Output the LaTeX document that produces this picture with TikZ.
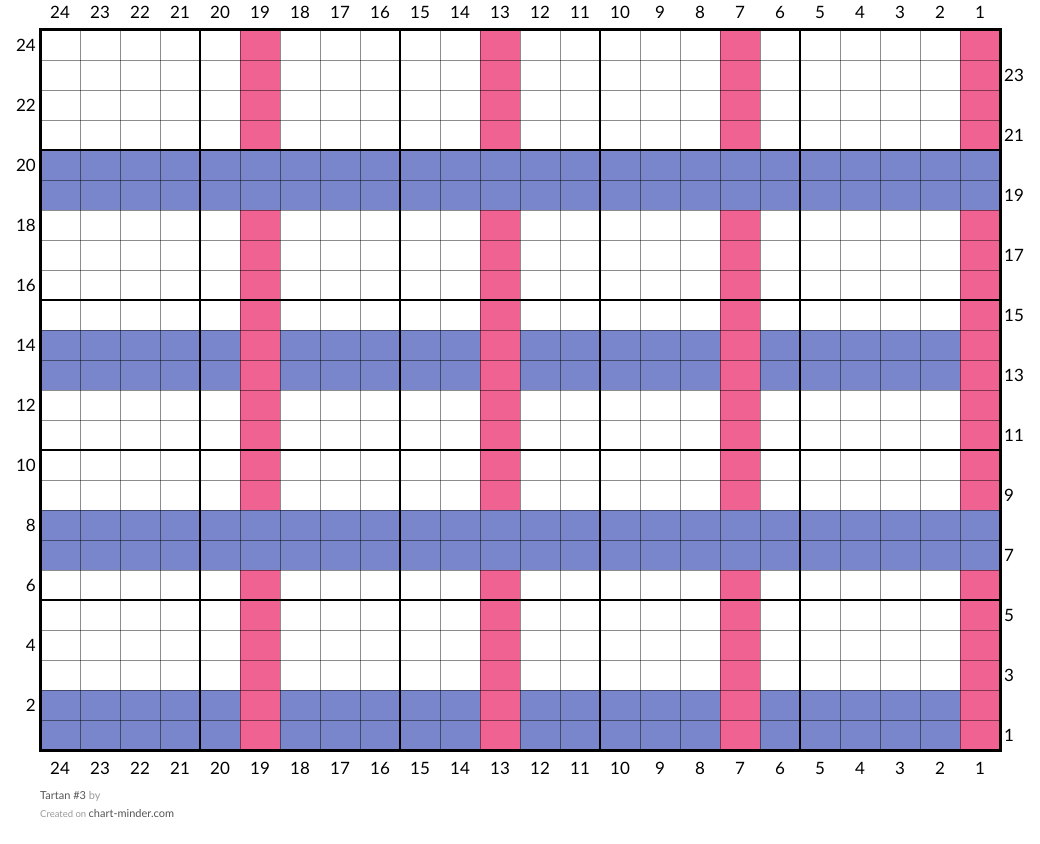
\documentclass[tikz,border=0pt]{standalone}
\usepackage{fontspec}
\setmainfont{Lato}
\definecolor{pinkc}{HTML}{F06292}
\definecolor{bluec}{HTML}{7986CB}
\definecolor{darkg}{HTML}{555555}
\definecolor{lightg}{HTML}{9A9A9A}
\begin{document}
\begin{tikzpicture}[x=1pt,y=-1pt,
  lab/.style={font=\fontsize{17}{20}\selectfont, inner sep=0pt, text=black},
  thingrid/.style={draw=black, draw opacity=0.45, line width=1pt},
  thickgrid/.style={draw=black, line width=2.4pt},
  foot/.style={inner sep=0pt, anchor=base west}]
\useasboundingbox (0,0) rectangle (1040,843);
\fill[white] (0,0) rectangle (1040,843);
% blue rows under pink
\foreach \r in {14,13,2,1} \fill[bluec] (40,{750-30*\r}) rectangle (1000,{780-30*\r});
% pink columns
\foreach \c in {19,13,7,1} \fill[pinkc] ({1000-40*\c},30) rectangle ({1040-40*\c},750);
% blue rows over pink
\foreach \r in {20,19,8,7} \fill[bluec] (40,{750-30*\r}) rectangle (1000,{780-30*\r});
% thin grid
\foreach \i in {1,...,23} {
  \draw[thingrid] ({40+40*\i},30) -- ({40+40*\i},750);
  \draw[thingrid] (40,{30+30*\i}) -- (1000,{30+30*\i});
}
% thick grid
\foreach \i in {200,400,600,800} \draw[thickgrid] (\i,30) -- (\i,750);
\foreach \i in {150,300,450,600} \draw[thickgrid] (40,\i) -- (1000,\i);
\draw[line width=3pt] (40,30) rectangle (1000,750);
% column labels
\foreach \c in {1,...,24} {
  \node[lab] (top\c) at ({1020-40*\c},12) {\c};
  \node[lab] (bot\c) at ({1020-40*\c},768) {\c};
}
% row labels
\foreach \r in {2,4,...,24} \node[lab, anchor=east] (left\r) at (36,{765-30*\r}) {\r};
\foreach \r in {1,3,...,23} \node[lab, anchor=west] (right\r) at (1004,{765-30*\r}) {\r};
% footer
\node[foot] (title) at (40,799) {\fontsize{11}{13}\selectfont\color{darkg}Tartan \#3 \color{lightg}by};
\node[foot] (credit) at (40,817) {\fontsize{9.5}{12}\selectfont\color{lightg}Created on \fontsize{11}{13}\selectfont\color{darkg}chart-minder.com};
\end{tikzpicture}
\end{document}
